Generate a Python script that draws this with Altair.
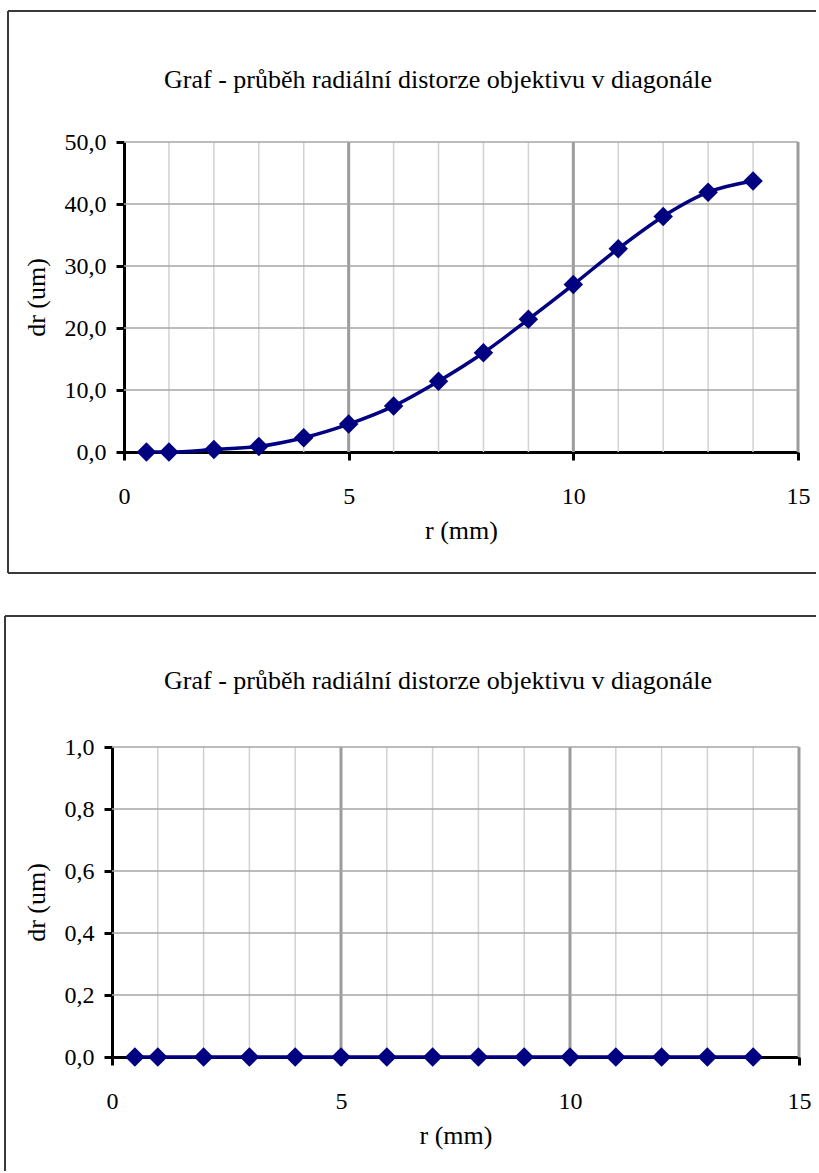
import altair as alt
import pandas as pd

# radial distortion of the lens along the diagonal
r_mm = [0.5, 1, 2, 3, 4, 5, 6, 7, 8, 9, 10, 11, 12, 13, 14]
dr_first = [0.0, 0.0, 0.4, 0.9, 2.3, 4.5, 7.4, 11.4, 16.0, 21.4, 27.0, 32.8, 38.0, 41.9, 43.7]
dr_second = [0.0, 0.0, 0.0, 0.0, 0.0, 0.0, 0.0, 0.0, 0.0, 0.0, 0.0, 0.0, 0.0, 0.0, 0.0]

chart_title = "Graf - průběh radiální distorze objektivu v diagonále"
x_title = "r (mm)"
y_title = "dr (um)"

x_ticks = [0, 5, 10, 15]
x_minor_grid = [1, 2, 3, 4, 6, 7, 8, 9, 11, 12, 13, 14]
x_major_grid = [5, 10, 15]
y_ticks_first = [0, 10, 20, 30, 40, 50]
y_ticks_second = [0, 0.2, 0.4, 0.6, 0.8, 1.0]

FONT = "Liberation Serif"
NAVY = "#000080"
FRAME = "#3a3a3a"
ONE_ROW = pd.DataFrame({"k": [0]})


def panel(dr, y_ticks, w, h, inset, left, top, bottom, right, title_x, title_y,
          closed=True):
    """One boxed chart; `inset` shifts the x range (and the y axis) right."""
    ymax = y_ticks[-1]
    xsc = alt.Scale(domain=[0, 15], range=[inset, w], nice=False, zero=False)
    ysc = alt.Scale(domain=[0, ymax], nice=False, zero=False)

    x_axis = alt.Axis(values=x_ticks, title=x_title)
    y_axis = alt.Axis(values=y_ticks, title=y_title, offset=-inset,
                      labelExpr="replace(format(datum.value, '.1f'), '.', ',')")

    def X(field):
        return alt.X(field, type="quantitative", scale=xsc, axis=x_axis)

    def Y(field):
        return alt.Y(field, type="quantitative", scale=ysc, axis=y_axis)

    series = pd.DataFrame({"r": r_mm, "dr": dr})
    minor = pd.DataFrame({"r": x_minor_grid, "dr": 0, "dr_end": ymax})
    major = pd.DataFrame({"r": x_major_grid, "dr": 0, "dr_end": ymax})
    hgrid = pd.DataFrame({"dr": y_ticks[1:], "r": 0, "r_end": 15})

    minor_rules = alt.Chart(minor).mark_rule(color="#d2d2d2", strokeWidth=1.5).encode(
        x=X("r"), y=Y("dr"), y2="dr_end:Q")
    major_rules = alt.Chart(major).mark_rule(color="#9c9c9c", strokeWidth=3).encode(
        x=X("r"), y=Y("dr"), y2="dr_end:Q")
    h_rules = alt.Chart(hgrid).mark_rule(color="#a6a6a6", strokeWidth=1.5).encode(
        x=X("r"), x2="r_end:Q", y=Y("dr"))
    base_line = alt.Chart(series).mark_line(
        color=NAVY, strokeWidth=3.5, interpolate="monotone").encode(x=X("r"), y=Y("dr"))
    points = alt.Chart(series).mark_point(
        shape="diamond", filled=True, size=380, color=NAVY, opacity=1
    ).encode(x=X("r"), y=Y("dr"))

    heading = alt.Chart(ONE_ROW).mark_text(
        text=chart_title, font=FONT, fontSize=26, color="black",
        align="center", baseline="middle",
    ).encode(x=alt.value(title_x), y=alt.value(title_y))

    frame_style = dict(color=FRAME, strokeWidth=2)
    frame = [
        alt.Chart(ONE_ROW).mark_rule(**frame_style).encode(
            x=alt.value(left), y=alt.value(top), y2=alt.value(bottom)),
        alt.Chart(ONE_ROW).mark_rule(**frame_style).encode(
            x=alt.value(left), x2=alt.value(right), y=alt.value(top)),
    ]
    if closed:
        frame.append(alt.Chart(ONE_ROW).mark_rule(**frame_style).encode(
            x=alt.value(left), x2=alt.value(right), y=alt.value(bottom)))

    return alt.layer(
        minor_rules, major_rules, h_rules, base_line, points, heading, *frame
    ).properties(width=w, height=h)


first = panel(dr_first, y_ticks_first, 686, 310, inset=12,
              left=-104, top=-131, bottom=431, right=704,
              title_x=326, title_y=-62.5)
second = panel(dr_second, y_ticks_second, 687, 310, inset=0,
               left=-107, top=-131, bottom=424, right=704,
               title_x=326, title_y=-66.5, closed=False)

chart = alt.concat(first, second, columns=1, spacing=41).properties(
    padding={"left": 4, "top": 10, "right": 0, "bottom": 0},
    background="white",
).configure_view(
    stroke=None
).configure_axis(
    grid=False, labelOverlap=False, labelFlush=False,
    tickSize=8, tickWidth=3, tickColor="black", domainColor="black", domainWidth=3,
    labelFont=FONT, labelFontSize=24, labelColor="black",
    titleFont=FONT, titleFontSize=26, titleFontWeight="normal", titleColor="black",
).configure_axisX(
    labelPadding=24.5, titlePadding=8.5,
).configure_axisY(
    labelPadding=10, titlePadding=15,
)

chart.save("out.html", embed_options={"renderer": "svg", "actions": False})
